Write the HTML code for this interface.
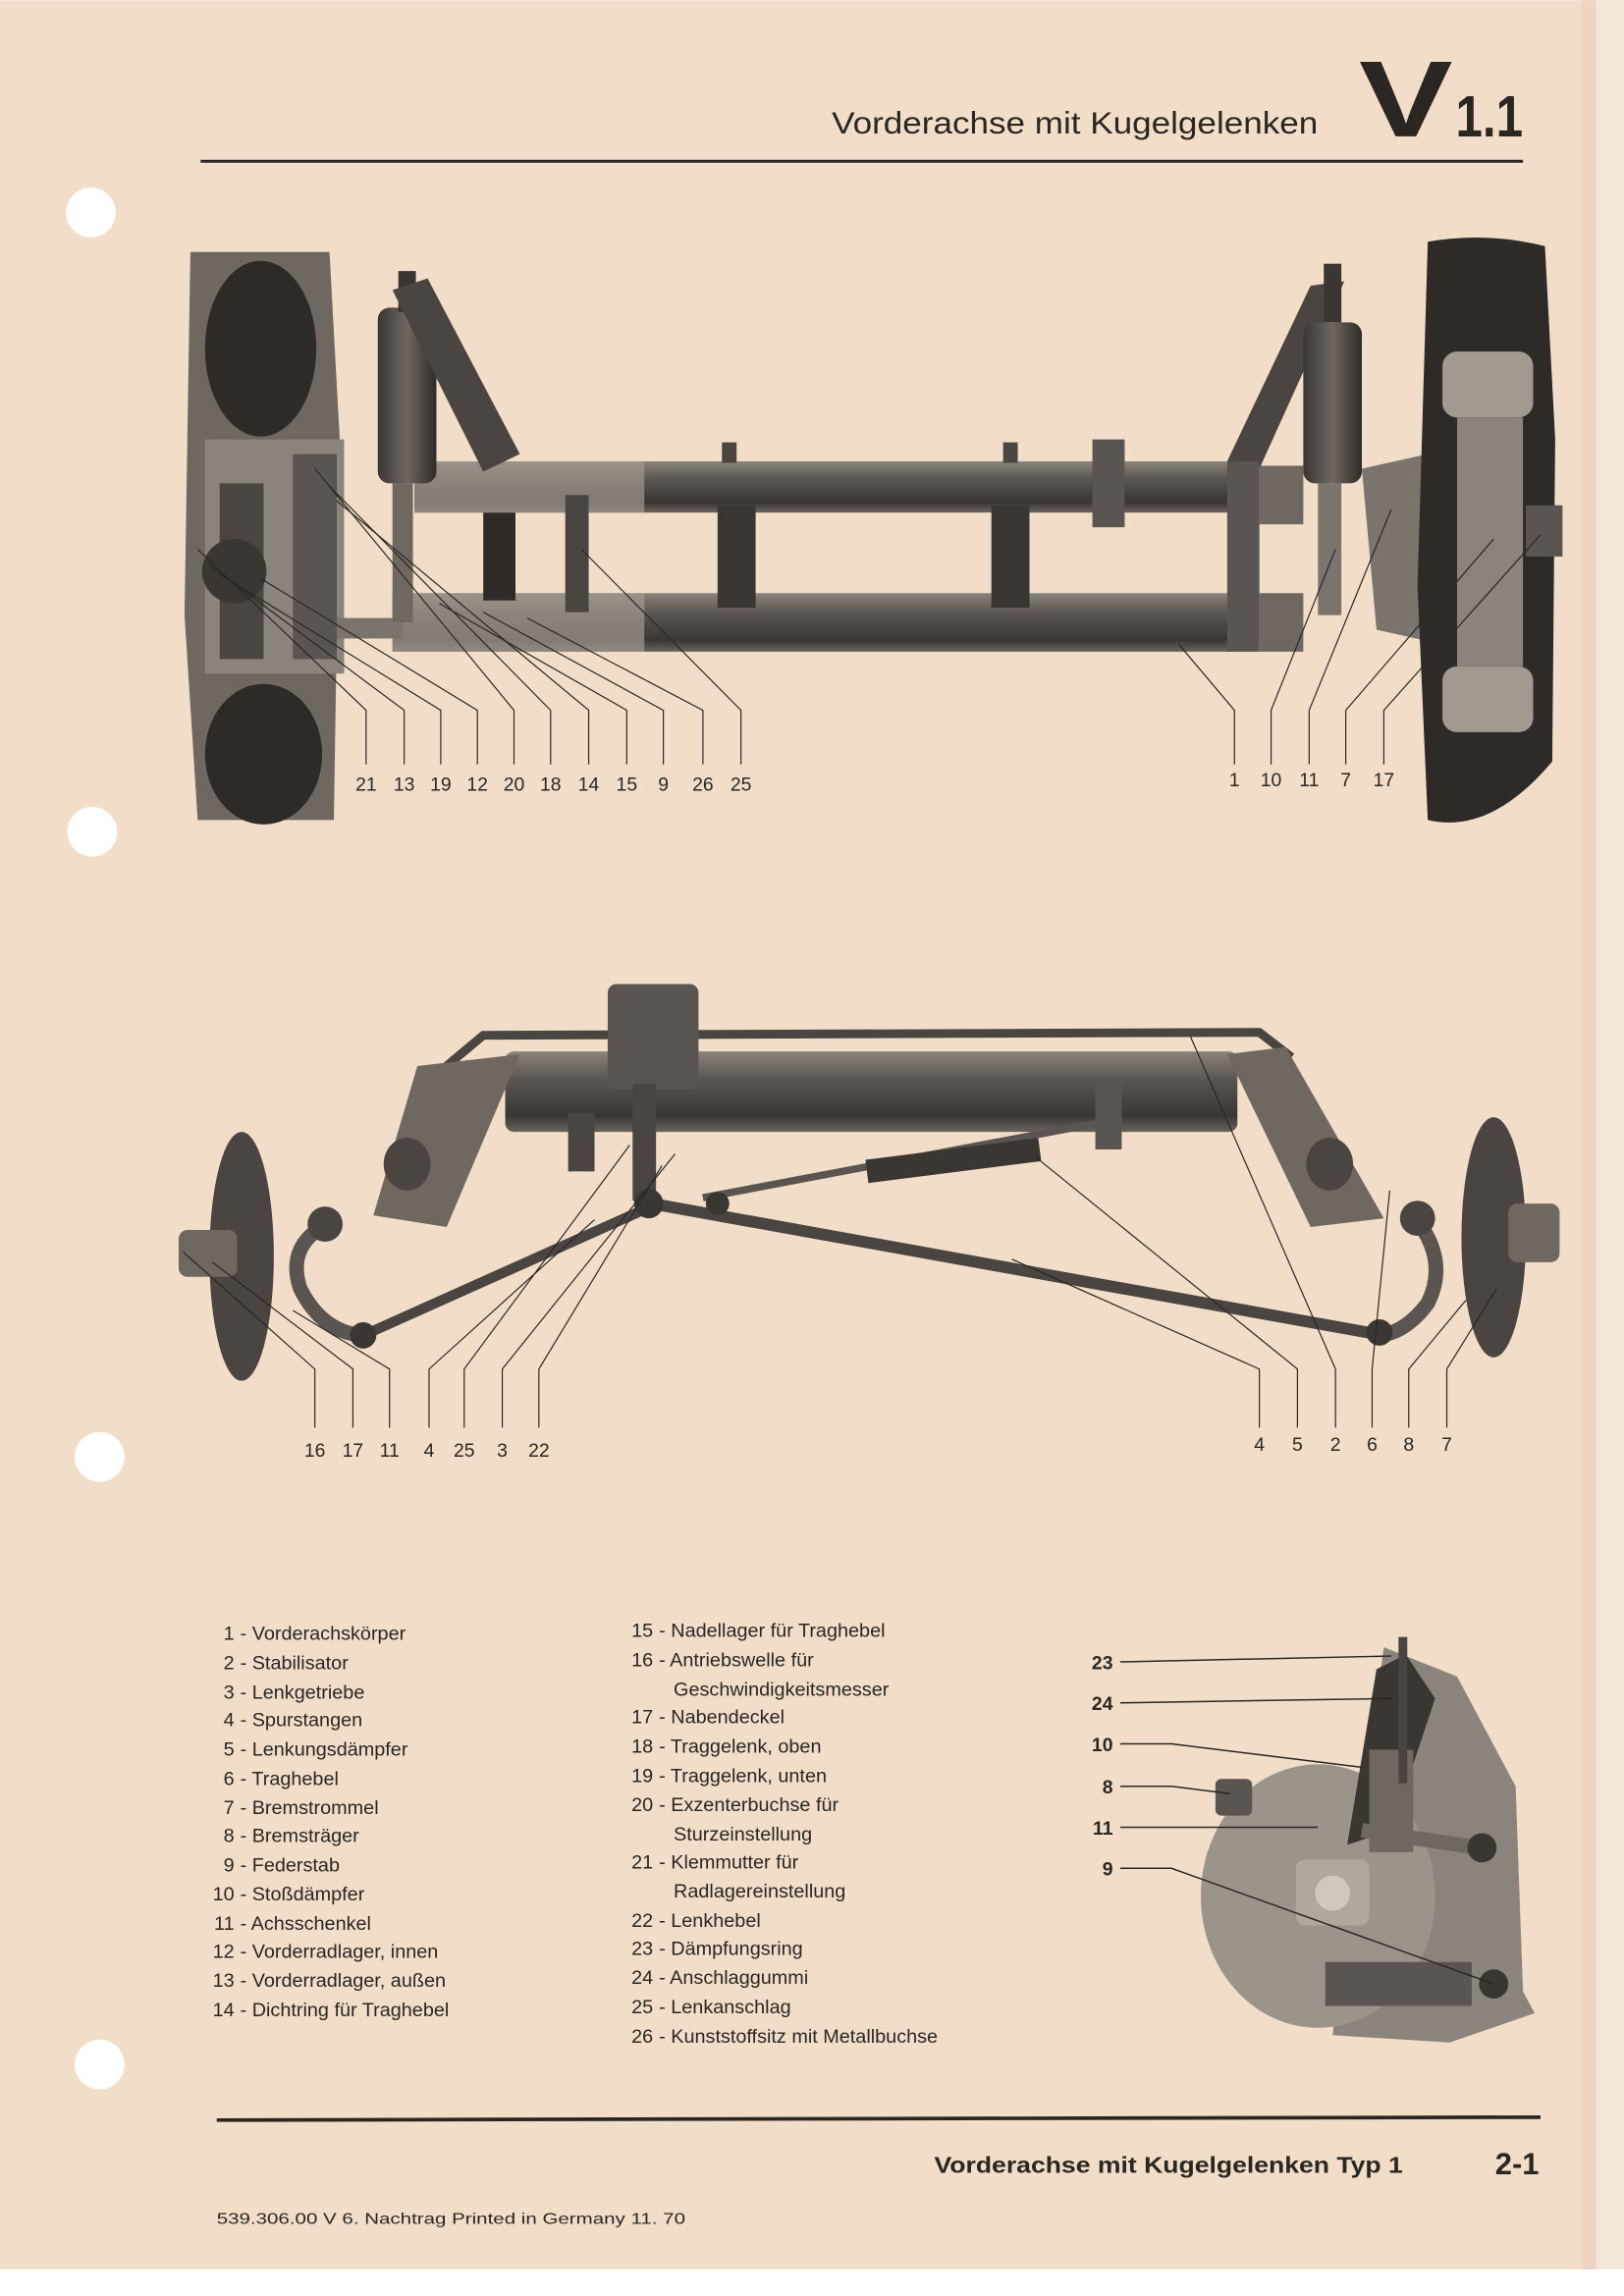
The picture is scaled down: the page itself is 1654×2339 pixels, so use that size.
<!DOCTYPE html>
<html><head><meta charset="utf-8"><style>
html,body{margin:0;padding:0;background:#fff}
svg{display:block}
text{font-family:"Liberation Sans",sans-serif;fill:#2a2622}
</style></head><body>
<svg width="1654" height="2339" viewBox="0 0 1109 1568" xmlns="http://www.w3.org/2000/svg">
<defs>
<linearGradient id="tube" x1="0" y1="0" x2="0" y2="1"><stop offset="0" stop-color="#8a847c"/><stop offset=".35" stop-color="#5a5550"/><stop offset=".8" stop-color="#3a3632"/><stop offset="1" stop-color="#6a645d"/></linearGradient>
<linearGradient id="vt" x1="0" y1="0" x2="1" y2="0"><stop offset="0" stop-color="#3a3632"/><stop offset=".5" stop-color="#6e6861"/><stop offset="1" stop-color="#2e2a27"/></linearGradient>
</defs>
<rect width="1109" height="1568" fill="#fff"/>
<rect width="1109" height="1550" fill="#f2dec8"/>
<rect x="1080" y="0" width="10" height="1550" fill="#efd3c3"/>
<rect x="1090" y="0" width="19" height="1550" fill="#f4e6d8"/>
<!-- holes -->
<circle cx="62" cy="145" r="17" fill="#fff"/><circle cx="63" cy="568" r="17" fill="#fff"/>
<circle cx="68" cy="995" r="17" fill="#fff"/><circle cx="68" cy="1410" r="17" fill="#fff"/>
<!-- header -->
<text x="568" y="91" font-size="21" textLength="332" lengthAdjust="spacingAndGlyphs">Vorderachse mit Kugelgelenken</text>
<text x="928" y="93" font-size="74" font-weight="bold" textLength="64" lengthAdjust="spacingAndGlyphs">V</text>
<text x="994" y="93" font-size="40" font-weight="bold" textLength="46" lengthAdjust="spacingAndGlyphs">1.1</text>
<line x1="137" y1="110" x2="1040" y2="110" stroke="#2a2622" stroke-width="2"/>

<!-- TOP DIAGRAM -->
<g>
<!-- left wheel -->
<path d="M130,172 L225,172 L232,300 L228,560 L135,560 L126,420 Z" fill="#6e6861"/>
<ellipse cx="178" cy="238" rx="38" ry="60" fill="#2e2a27"/>
<ellipse cx="180" cy="515" rx="40" ry="48" fill="#2e2a27"/>
<rect x="140" y="300" width="95" height="160" fill="#8a847c"/>
<rect x="150" y="330" width="30" height="120" fill="#4a4540"/>
<rect x="200" y="310" width="30" height="140" fill="#5a5550"/>
<circle cx="160" cy="390" r="22" fill="#3a3632"/>
<!-- tubes -->
<rect x="283" y="315" width="557" height="35" fill="url(#tube)"/>
<rect x="283" y="315" width="157" height="35" fill="#a29a90" opacity=".7"/>
<rect x="268" y="405" width="572" height="40" fill="url(#tube)"/>
<rect x="268" y="405" width="172" height="40" fill="#a29a90" opacity=".7"/>
<rect x="230" y="422" width="45" height="14" fill="#7a746d"/>
<rect x="490" y="345" width="26" height="70" fill="#3a3632"/>
<rect x="677" y="345" width="26" height="70" fill="#3a3632"/>
<rect x="330" y="350" width="22" height="60" fill="#2e2a27"/>
<rect x="386" y="338" width="16" height="80" fill="#4a4540"/>
<rect x="746" y="300" width="22" height="60" fill="#5a5550"/>
<rect x="493" y="302" width="10" height="14" fill="#4a4540"/><rect x="685" y="302" width="10" height="14" fill="#4a4540"/>
<!-- left shock & arm -->
<rect x="258" y="210" width="40" height="120" rx="8" fill="url(#vt)"/>
<rect x="272" y="185" width="12" height="28" fill="#3a3632"/>
<rect x="268" y="330" width="14" height="95" fill="#6e6861"/>
<polygon points="268,198 292,190 355,310 330,322" fill="#4a4540"/>
<!-- right arm & shock -->
<polygon points="895,195 918,192 860,320 838,315" fill="#4a4540"/>
<rect x="838" y="315" width="22" height="130" fill="#5a5550"/>
<rect x="890" y="220" width="40" height="110" rx="8" fill="url(#vt)"/>
<rect x="904" y="180" width="12" height="40" fill="#3a3632"/>
<rect x="900" y="330" width="16" height="90" fill="#7a746d"/>
<rect x="860" y="318" width="30" height="40" fill="#6e6861"/><rect x="860" y="405" width="30" height="40" fill="#6e6861"/>
<path d="M930,320 L975,310 L985,440 L940,430 Z" fill="#7a746d"/>
<!-- right wheel -->
<path d="M975,165 Q1015,158 1055,168 L1062,300 L1060,520 Q1018,570 975,560 L968,400 Z" fill="#2e2a27"/>
<rect x="985" y="240" width="62" height="45" rx="10" fill="#a29a90"/>
<rect x="985" y="455" width="62" height="45" rx="10" fill="#a29a90"/>
<rect x="995" y="285" width="45" height="170" fill="#8a847c"/>
<rect x="1042" y="345" width="25" height="35" fill="#5a5550"/>
</g>
<!-- top leaders -->
<g stroke="#2a2622" stroke-width="0.8" fill="none">
<polyline points="250,522 250,485 135,375"/><polyline points="276,522 276,485 142,385"/>
<polyline points="301,522 301,485 150,392"/><polyline points="326,522 326,485 178,395"/>
<polyline points="351,522 351,485 215,320"/><polyline points="376,522 376,485 225,332"/>
<polyline points="402,522 402,485 230,342"/><polyline points="428,522 428,485 300,412"/>
<polyline points="453,522 453,485 330,418"/><polyline points="480,522 480,485 360,422"/>
<polyline points="506,522 506,485 397,375"/>
<polyline points="843,522 843,485 805,440"/><polyline points="868,522 868,485 912,375"/>
<polyline points="894,522 894,485 950,348"/><polyline points="919,522 919,485 1020,368"/>
<polyline points="945,522 945,485 1052,365"/>
</g>
<g font-size="13" text-anchor="middle">
<text x="250" y="540">21</text><text x="276" y="540">13</text><text x="301" y="540">19</text><text x="326" y="540">12</text><text x="351" y="540">20</text><text x="376" y="540">18</text><text x="402" y="540">14</text><text x="428" y="540">15</text><text x="453" y="540">9</text><text x="480" y="540">26</text><text x="506" y="540">25</text>
<text x="843" y="537">1</text><text x="868" y="537">10</text><text x="894" y="537">11</text><text x="919" y="537">7</text><text x="945" y="537">17</text>
</g>

<!-- BOTTOM DIAGRAM -->
<g>
<polyline points="305,728 330,707 860,705 882,722" fill="none" stroke="#4a4540" stroke-width="6"/>
<rect x="345" y="718" width="500" height="55" rx="6" fill="url(#tube)"/>
<polygon points="285,728 355,720 305,838 255,830" fill="#6e6861"/>
<polygon points="838,720 878,715 945,832 895,838" fill="#6e6861"/>
<ellipse cx="278" cy="795" rx="16" ry="18" fill="#4a4540"/><ellipse cx="908" cy="795" rx="16" ry="18" fill="#4a4540"/>
<rect x="415" y="672" width="62" height="72" rx="6" fill="#5a5550"/>
<rect x="432" y="740" width="16" height="80" fill="#4a4540"/>
<rect x="388" y="760" width="18" height="40" fill="#4a4540"/>
<rect x="748" y="735" width="18" height="50" fill="#5a5550"/>
<line x1="480" y1="818" x2="760" y2="765" stroke="#5a5550" stroke-width="5"/>
<line x1="592" y1="800" x2="710" y2="785" stroke="#3a3632" stroke-width="16"/>
<line x1="445" y1="822" x2="945" y2="912" stroke="#4a4540" stroke-width="8"/>
<line x1="440" y1="826" x2="248" y2="912" stroke="#4a4540" stroke-width="7"/>
<circle cx="443" cy="822" r="10" fill="#3a3632"/><circle cx="490" cy="822" r="8" fill="#3a3632"/>
<path d="M225,835 Q195,850 205,880 Q220,910 248,912" fill="none" stroke="#5a5550" stroke-width="10"/>
<path d="M965,830 Q990,860 975,890 Q960,910 942,912" fill="none" stroke="#5a5550" stroke-width="10"/>
<circle cx="222" cy="836" r="12" fill="#4a4540"/><circle cx="968" cy="832" r="12" fill="#4a4540"/>
<circle cx="248" cy="912" r="9" fill="#3a3632"/><circle cx="942" cy="910" r="9" fill="#3a3632"/>
<ellipse cx="165" cy="858" rx="22" ry="85" fill="#4a4540"/>
<rect x="122" y="840" width="40" height="32" rx="6" fill="#6e6861"/>
<ellipse cx="1020" cy="845" rx="22" ry="82" fill="#4a4540"/>
<rect x="1030" y="822" width="35" height="40" rx="6" fill="#6e6861"/>
</g>
<g stroke="#2a2622" stroke-width="0.8" fill="none">
<polyline points="215,975 215,935 125,855"/><polyline points="241,975 241,935 145,862"/>
<polyline points="266,975 266,935 200,895"/><polyline points="293,975 293,935 406,833"/>
<polyline points="317,975 317,935 430,782"/><polyline points="343,975 343,935 461,788"/>
<polyline points="368,975 368,935 452,796"/>
<polyline points="860,975 860,935 691,860"/><polyline points="886,975 886,935 707,790"/>
<polyline points="912,975 912,935 813,708"/><polyline points="937,975 937,935 949,813"/>
<polyline points="962,975 962,935 1001,888"/><polyline points="988,975 988,935 1022,880"/>
</g>
<g font-size="13" text-anchor="middle">
<text x="215" y="995">16</text><text x="241" y="995">17</text><text x="266" y="995">11</text><text x="293" y="995">4</text><text x="317" y="995">25</text><text x="343" y="995">3</text><text x="368" y="995">22</text>
<text x="860" y="991">4</text><text x="886" y="991">5</text><text x="912" y="991">2</text><text x="937" y="991">6</text><text x="962" y="991">8</text><text x="988" y="991">7</text>
</g>

<!-- LEGEND -->
<g font-size="13.3">
<g text-anchor="end">
<text x="160" y="1120">1</text><text x="160" y="1140">2</text><text x="160" y="1160">3</text><text x="160" y="1179">4</text><text x="160" y="1199">5</text><text x="160" y="1219">6</text><text x="160" y="1239">7</text><text x="160" y="1258">8</text><text x="160" y="1278">9</text><text x="160" y="1298">10</text><text x="160" y="1318">11</text><text x="160" y="1337">12</text><text x="160" y="1357">13</text><text x="160" y="1377">14</text>
</g>
<text x="164" y="1120">- Vorderachskörper</text><text x="164" y="1140">- Stabilisator</text><text x="164" y="1160">- Lenkgetriebe</text><text x="164" y="1179">- Spurstangen</text><text x="164" y="1199">- Lenkungsdämpfer</text><text x="164" y="1219">- Traghebel</text><text x="164" y="1239">- Bremstrommel</text><text x="164" y="1258">- Bremsträger</text><text x="164" y="1278">- Federstab</text><text x="164" y="1298">- Stoßdämpfer</text><text x="164" y="1318">- Achsschenkel</text><text x="164" y="1337">- Vorderradlager, innen</text><text x="164" y="1357">- Vorderradlager, außen</text><text x="164" y="1377">- Dichtring für Traghebel</text>
<g text-anchor="end">
<text x="446" y="1118">15</text><text x="446" y="1138">16</text><text x="446" y="1177">17</text><text x="446" y="1197">18</text><text x="446" y="1217">19</text><text x="446" y="1237">20</text><text x="446" y="1276">21</text><text x="446" y="1316">22</text><text x="446" y="1335">23</text><text x="446" y="1355">24</text><text x="446" y="1375">25</text><text x="446" y="1395">26</text>
</g>
<text x="450" y="1118">- Nadellager für Traghebel</text><text x="450" y="1138">- Antriebswelle für</text><text x="460" y="1158">Geschwindigkeitsmesser</text><text x="450" y="1177">- Nabendeckel</text><text x="450" y="1197">- Traggelenk, oben</text><text x="450" y="1217">- Traggelenk, unten</text><text x="450" y="1237">- Exzenterbuchse für</text><text x="460" y="1257">Sturzeinstellung</text><text x="450" y="1276">- Klemmutter für</text><text x="460" y="1296">Radlagereinstellung</text><text x="450" y="1316">- Lenkhebel</text><text x="450" y="1335">- Dämpfungsring</text><text x="450" y="1355">- Anschlaggummi</text><text x="450" y="1375">- Lenkanschlag</text><text x="450" y="1395">- Kunststoffsitz mit Metallbuchse</text>
</g>

<!-- SMALL DIAGRAM -->
<g>
<path d="M945,1125 L995,1145 L1035,1220 L1040,1360 L1048,1375 L990,1395 L910,1390 Z" fill="#8a847c"/>
<ellipse cx="900" cy="1295" rx="80" ry="90" fill="#9a948b"/>
<path d="M940,1140 L960,1130 L980,1160 L950,1250 L920,1260 Z" fill="#3a3632"/>
<rect x="935" y="1195" width="30" height="70" fill="#6e6861"/>
<rect x="955" y="1118" width="6" height="100" fill="#4a4540"/>
<rect x="885" y="1270" width="50" height="45" rx="6" fill="#b0a89d"/>
<circle cx="910" cy="1293" r="12" fill="#d0c8bc"/>
<line x1="930" y1="1250" x2="1010" y2="1262" stroke="#6e6861" stroke-width="10"/>
<circle cx="1012" cy="1262" r="10" fill="#3a3632"/><circle cx="1020" cy="1355" r="10" fill="#3a3632"/>
<rect x="905" y="1340" width="100" height="30" fill="#5a5550"/>
<rect x="830" y="1215" width="25" height="25" rx="4" fill="#5a5550"/>
</g>
<g stroke="#2a2622" stroke-width="1" fill="none">
<polyline points="765,1135 950,1131"/><polyline points="765,1163 950,1160"/>
<polyline points="765,1191 800,1191 930,1207"/><polyline points="765,1220 800,1220 840,1225"/>
<polyline points="765,1248 900,1248"/><polyline points="765,1276 800,1276 1020,1355"/>
</g>
<g font-size="13" font-weight="bold" text-anchor="end">
<text x="760" y="1140">23</text><text x="760" y="1168">24</text><text x="760" y="1196">10</text><text x="760" y="1225">8</text><text x="760" y="1253">11</text><text x="760" y="1281">9</text>
</g>

<!-- FOOTER -->
<line x1="148" y1="1448" x2="1052" y2="1446" stroke="#2a2622" stroke-width="2.5"/>
<text x="638" y="1484" font-size="15.5" font-weight="bold" textLength="320" lengthAdjust="spacingAndGlyphs">Vorderachse mit Kugelgelenken Typ 1</text>
<text x="1021" y="1485" font-size="21" font-weight="bold" textLength="30" lengthAdjust="spacingAndGlyphs">2-1</text>
<text x="148" y="1519" font-size="10.5" textLength="320" lengthAdjust="spacingAndGlyphs">539.306.00  V  6. Nachtrag  Printed in Germany  11. 70</text>
</svg>
</body></html>
